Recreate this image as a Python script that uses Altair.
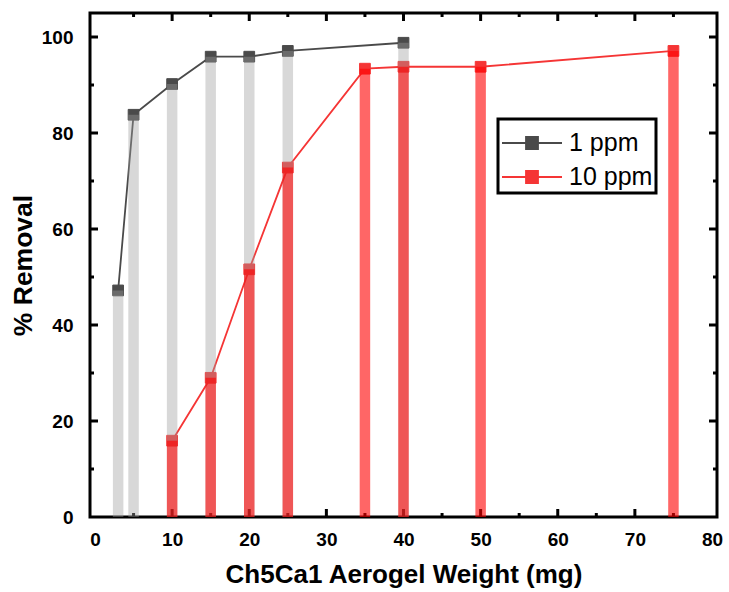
import altair as alt
import pandas as pd

# ---- data ----
x_1ppm = [3, 5, 10, 15, 20, 25, 40]
y_1ppm = [47.2, 83.8, 90.2, 95.9, 95.9, 97.1, 98.8]
x_10ppm = [10, 15, 20, 25, 35, 40, 50, 75]
y_10ppm = [15.9, 29.0, 51.6, 72.8, 93.4, 93.8, 93.8, 97.1]
series_names = ["1 ppm", "10 ppm"]
series_colors = ["#4a4a4a", "#f53535"]
x_tick_labels = [0, 10, 20, 30, 40, 50, 60, 70, 80]
y_tick_labels = [0, 20, 40, 60, 80, 100]
x_major = [10, 20, 30, 40, 50, 60, 70]
x_minor = [5, 15, 25, 35, 45, 55, 65, 75]
y_major = [20, 40, 60, 80, 100]
y_minor = [10, 30, 50, 70, 90]

W, H = 627, 504
FONT = "Liberation Sans"

df = pd.DataFrame(
    {"x": x_1ppm + x_10ppm,
     "y": y_1ppm + y_10ppm,
     "series": [series_names[0]] * len(x_1ppm) + [series_names[1]] * len(x_10ppm)}
)
df1 = df[df.series == series_names[0]]
df10 = df[df.series == series_names[1]]

xscale = alt.Scale(domain=[0, 80], nice=False, zero=False)
yscale = alt.Scale(domain=[0, 105], nice=False, zero=False)

X = alt.X("x:Q", scale=xscale,
          axis=alt.Axis(values=x_tick_labels, title="Ch5Ca1 Aerogel Weight (mg)",
                        format="d"))
Y = alt.Y("y:Q", scale=yscale,
          axis=alt.Axis(values=y_tick_labels, title="% Removal", format="d"))

col_scale = alt.Scale(domain=series_names, range=series_colors)

# inward ticks (drawn under the translucent bars)
txmaj = pd.DataFrame({"t": x_major})
txmin = pd.DataFrame({"t": x_minor})
tymaj = pd.DataFrame({"t": y_major})
tymin = pd.DataFrame({"t": y_minor})
TX = alt.X("t:Q", scale=xscale)
TY = alt.Y("t:Q", scale=yscale)
rule = dict(color="black", strokeWidth=3)
ticks = [
    alt.Chart(txmaj).mark_rule(**rule).encode(x=TX, y=alt.value(H), y2=alt.value(H - 8)),
    alt.Chart(txmin).mark_rule(**rule).encode(x=TX, y=alt.value(H), y2=alt.value(H - 4)),
    alt.Chart(txmaj).mark_rule(**rule).encode(x=TX, y=alt.value(0), y2=alt.value(8)),
    alt.Chart(txmin).mark_rule(**rule).encode(x=TX, y=alt.value(0), y2=alt.value(4)),
    alt.Chart(tymaj).mark_rule(**rule).encode(y=TY, x=alt.value(0), x2=alt.value(8)),
    alt.Chart(tymin).mark_rule(**rule).encode(y=TY, x=alt.value(0), x2=alt.value(4)),
    alt.Chart(tymaj).mark_rule(**rule).encode(y=TY, x=alt.value(W), x2=alt.value(W - 8)),
    alt.Chart(tymin).mark_rule(**rule).encode(y=TY, x=alt.value(W), x2=alt.value(W - 4)),
]

legend = alt.Legend(
    title=None, orient="none", legendX=408, legendY=106,
    symbolType="M-1,0L2,0M0.2,-0.3L0.8,-0.3L0.8,0.3L0.2,0.3Z",
    symbolSize=1600, symbolStrokeWidth=1.8,
    labelFont=FONT, labelFontSize=25, labelColor="black", labelOffset=26,
    rowPadding=-2, padding=3, strokeColor="black",
)

lines = alt.Chart(df).mark_line(strokeWidth=1.8).encode(
    x=X, y=Y,
    stroke=alt.Stroke("series:N", scale=col_scale, legend=legend),
    detail="series:N",
)
points = alt.Chart(df).mark_point(shape="square", filled=True, size=115, opacity=1,
                                  strokeWidth=1).encode(
    x=X, y=Y,
    fill=alt.Fill("series:N", scale=col_scale, legend=legend),
    stroke=alt.Stroke("series:N", scale=col_scale, legend=legend),
)
bars1 = alt.Chart(df1).mark_bar(size=10.5, color="#9e9e9e", opacity=0.4).encode(
    x=X, y=Y)
bars10 = alt.Chart(df10).mark_bar(size=10.5, color="#ff0000", opacity=0.6).encode(
    x=X, y=Y)

chart = alt.layer(*ticks, lines, points, bars1, bars10).properties(
    width=W, height=H,
    autosize=alt.AutoSizeParams(type="none"),
    padding={"left": 90, "top": 13, "right": 12, "bottom": 75},
).configure_view(
    stroke="black", strokeWidth=3
).configure_axis(
    grid=False, domain=False, ticks=False,
    labelFont=FONT, labelFontSize=19, labelFontWeight="bold", labelColor="black",
    titleFont=FONT, titleFontWeight="bold", titleColor="black",
).configure_axisX(
    labelPadding=13, titlePadding=12, titleFontSize=26,
).configure_axisY(
    labelPadding=17, titlePadding=4, titleFontSize=26.5,
).configure_legend(
    strokeWidth=3,
)

chart.save("out.html", embed_options={"renderer": "svg", "actions": False})
